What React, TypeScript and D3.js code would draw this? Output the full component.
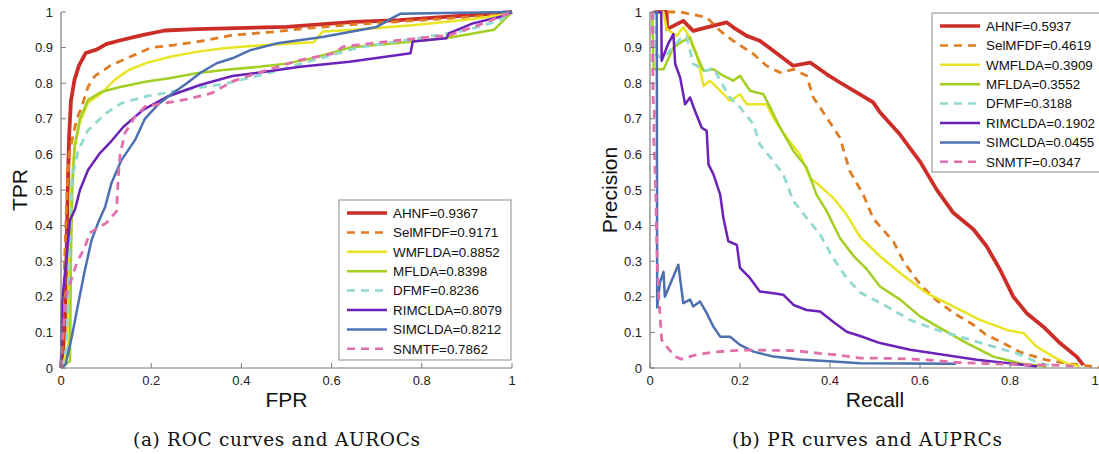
import React from 'react';
import * as d3 from 'd3';

type Pt = [number, number];

const methods = ['AHNF', 'SelMFDF', 'WMFLDA', 'MFLDA', 'DFMF', 'RIMCLDA', 'SIMCLDA', 'SNMTF'];
const aurocs = ['0.9367', '0.9171', '0.8852', '0.8398', '0.8236', '0.8079', '0.8212', '0.7862'];
const auprcs = ['0.5937', '0.4619', '0.3909', '0.3552', '0.3188', '0.1902', '0.0455', '0.0347'];
const xTicks = ['0', '0.2', '0.4', '0.6', '0.8', '1'];
const yTicks = ['0', '0.1', '0.2', '0.3', '0.4', '0.5', '0.6', '0.7', '0.8', '0.9', '1'];

// ROC curves: [FPR, TPR]
const rocAHNF: Pt[] = [[0, 0], [0.008, 0.1], [0.012, 0.3], [0.015, 0.5], [0.018, 0.65], [0.022, 0.75], [0.03, 0.81], [0.04, 0.85], [0.055, 0.885], [0.08, 0.895], [0.1, 0.91], [0.13, 0.92], [0.18, 0.935], [0.23, 0.948], [0.3, 0.952], [0.5, 0.958], [0.65, 0.972], [0.75, 0.977], [0.86, 0.987], [0.95, 0.995], [1, 1]];
const rocSelMFDF: Pt[] = [[0, 0], [0.005, 0.1], [0.008, 0.3], [0.012, 0.45], [0.018, 0.6], [0.028, 0.66], [0.035, 0.7], [0.045, 0.73], [0.06, 0.79], [0.075, 0.82], [0.11, 0.85], [0.155, 0.875], [0.2, 0.9], [0.25, 0.907], [0.32, 0.92], [0.38, 0.935], [0.47, 0.944], [0.55, 0.955], [0.65, 0.965], [0.75, 0.973], [0.86, 0.982], [0.95, 0.99], [1, 1]];
const rocWMFLDA: Pt[] = [[0, 0], [0.015, 0.05], [0.018, 0.3], [0.022, 0.5], [0.03, 0.62], [0.042, 0.69], [0.06, 0.745], [0.09, 0.772], [0.12, 0.81], [0.15, 0.837], [0.19, 0.857], [0.245, 0.875], [0.3, 0.888], [0.36, 0.898], [0.43, 0.905], [0.52, 0.912], [0.56, 0.915], [0.58, 0.945], [0.65, 0.95], [0.78, 0.963], [0.9, 0.978], [0.97, 0.99], [1, 1]];
const rocMFLDA: Pt[] = [[0, 0], [0.02, 0.02], [0.022, 0.3], [0.025, 0.5], [0.03, 0.62], [0.042, 0.7], [0.06, 0.753], [0.09, 0.776], [0.134, 0.79], [0.19, 0.805], [0.24, 0.814], [0.3, 0.828], [0.36, 0.837], [0.44, 0.846], [0.5, 0.855], [0.56, 0.871], [0.64, 0.9], [0.78, 0.917], [0.87, 0.93], [0.96, 0.95], [1, 1]];
const rocDFMF: Pt[] = [[0, 0], [0.012, 0.05], [0.018, 0.3], [0.024, 0.53], [0.038, 0.61], [0.06, 0.668], [0.1, 0.716], [0.134, 0.744], [0.186, 0.762], [0.245, 0.776], [0.32, 0.79], [0.36, 0.797], [0.46, 0.828], [0.56, 0.865], [0.66, 0.9], [0.79, 0.926], [0.9, 0.949], [0.97, 0.975], [1, 1]];
const rocRIMCLDA: Pt[] = [[0, 0], [0.002, 0.18], [0.013, 0.32], [0.02, 0.416], [0.031, 0.445], [0.042, 0.5], [0.06, 0.556], [0.086, 0.603], [0.11, 0.635], [0.138, 0.677], [0.182, 0.725], [0.235, 0.762], [0.308, 0.795], [0.38, 0.82], [0.48, 0.837], [0.53, 0.846], [0.64, 0.86], [0.775, 0.884], [0.78, 0.917], [0.855, 0.926], [0.86, 0.94], [0.913, 0.968], [0.97, 0.985], [1, 1]];
const rocSIMCLDA: Pt[] = [[0, 0], [0.01, 0.01], [0.024, 0.088], [0.038, 0.18], [0.053, 0.275], [0.068, 0.36], [0.082, 0.407], [0.098, 0.453], [0.112, 0.52], [0.134, 0.584], [0.164, 0.64], [0.186, 0.7], [0.215, 0.74], [0.24, 0.765], [0.279, 0.8], [0.31, 0.83], [0.345, 0.856], [0.38, 0.87], [0.42, 0.893], [0.48, 0.912], [0.58, 0.93], [0.7, 0.958], [0.733, 0.982], [0.752, 0.995], [0.85, 0.997], [1, 1]];
const rocSNMTF: Pt[] = [[0, 0], [0.001, 0.06], [0.013, 0.21], [0.035, 0.295], [0.053, 0.34], [0.064, 0.38], [0.1, 0.407], [0.123, 0.44], [0.127, 0.537], [0.131, 0.6], [0.142, 0.66], [0.164, 0.706], [0.186, 0.734], [0.23, 0.744], [0.28, 0.755], [0.334, 0.772], [0.38, 0.805], [0.456, 0.837], [0.53, 0.865], [0.604, 0.884], [0.626, 0.903], [0.752, 0.921], [0.862, 0.935], [0.936, 0.968], [0.98, 0.99], [1, 1]];

// PR curves: [Recall, Precision]
const prAHNF: Pt[] = [[0.01, 1], [0.037, 1], [0.038, 0.952], [0.074, 0.975], [0.096, 0.947], [0.126, 0.957], [0.17, 0.971], [0.185, 0.957], [0.215, 0.933], [0.244, 0.919], [0.274, 0.891], [0.318, 0.849], [0.356, 0.858], [0.393, 0.825], [0.422, 0.802], [0.459, 0.774], [0.496, 0.746], [0.51, 0.72], [0.556, 0.655], [0.6, 0.58], [0.637, 0.501], [0.674, 0.436], [0.719, 0.389], [0.748, 0.342], [0.778, 0.276], [0.807, 0.201], [0.837, 0.154], [0.874, 0.116], [0.911, 0.07], [0.948, 0.032], [0.963, 0.008]];
const prSelMFDF: Pt[] = [[0.007, 1], [0.067, 1], [0.126, 0.985], [0.156, 0.947], [0.185, 0.919], [0.23, 0.882], [0.259, 0.849], [0.289, 0.83], [0.319, 0.839], [0.348, 0.821], [0.363, 0.76], [0.393, 0.703], [0.422, 0.647], [0.444, 0.553], [0.474, 0.487], [0.496, 0.42], [0.541, 0.355], [0.563, 0.3], [0.6, 0.235], [0.637, 0.19], [0.674, 0.155], [0.72, 0.12], [0.745, 0.095], [0.785, 0.07], [0.822, 0.045], [0.88, 0.023], [0.926, 0.013], [0.985, 0.004], [1, 0.002]];
const prWMFLDA: Pt[] = [[0.011, 1], [0.03, 1], [0.037, 0.952], [0.059, 0.933], [0.074, 0.957], [0.089, 0.928], [0.104, 0.882], [0.119, 0.792], [0.133, 0.807], [0.156, 0.779], [0.178, 0.75], [0.2, 0.769], [0.215, 0.741], [0.259, 0.741], [0.274, 0.703], [0.304, 0.647], [0.333, 0.6], [0.356, 0.534], [0.378, 0.511], [0.407, 0.478], [0.437, 0.431], [0.467, 0.368], [0.511, 0.314], [0.556, 0.267], [0.615, 0.21], [0.674, 0.173], [0.733, 0.135], [0.793, 0.107], [0.83, 0.098], [0.859, 0.06], [0.896, 0.032], [0.926, 0.013], [0.955, 0.004]];
const prMFLDA: Pt[] = [[0.005, 1], [0.008, 0.84], [0.03, 0.839], [0.052, 0.9], [0.074, 0.919], [0.089, 0.928], [0.096, 0.9], [0.119, 0.835], [0.141, 0.839], [0.163, 0.821], [0.185, 0.807], [0.2, 0.821], [0.222, 0.779], [0.252, 0.769], [0.267, 0.732], [0.289, 0.675], [0.319, 0.609], [0.348, 0.563], [0.37, 0.487], [0.393, 0.44], [0.422, 0.365], [0.452, 0.315], [0.48, 0.28], [0.511, 0.229], [0.556, 0.192], [0.6, 0.145], [0.652, 0.107], [0.704, 0.07], [0.763, 0.032], [0.822, 0.013], [0.881, 0.004]];
const prDFMF: Pt[] = [[0.008, 1], [0.012, 0.88], [0.03, 0.87], [0.05, 0.9], [0.068, 0.925], [0.081, 0.933], [0.096, 0.854], [0.126, 0.835], [0.141, 0.844], [0.156, 0.807], [0.178, 0.76], [0.2, 0.732], [0.23, 0.685], [0.244, 0.628], [0.274, 0.581], [0.296, 0.544], [0.319, 0.468], [0.348, 0.422], [0.378, 0.375], [0.407, 0.309], [0.437, 0.253], [0.467, 0.212], [0.526, 0.173], [0.578, 0.135], [0.637, 0.107], [0.689, 0.088], [0.763, 0.06], [0.815, 0.041], [0.867, 0.013], [0.9, 0.004]];
const prRIMCLDA: Pt[] = [[0.015, 1], [0.025, 1], [0.026, 0.863], [0.04, 0.91], [0.052, 0.938], [0.056, 0.854], [0.067, 0.816], [0.078, 0.741], [0.089, 0.76], [0.1, 0.722], [0.115, 0.675], [0.126, 0.666], [0.13, 0.572], [0.141, 0.544], [0.156, 0.487], [0.163, 0.422], [0.174, 0.356], [0.193, 0.346], [0.2, 0.281], [0.222, 0.253], [0.244, 0.215], [0.274, 0.21], [0.296, 0.206], [0.319, 0.177], [0.348, 0.163], [0.378, 0.159], [0.407, 0.13], [0.437, 0.102], [0.467, 0.09], [0.511, 0.07], [0.578, 0.051], [0.652, 0.037], [0.726, 0.023], [0.8, 0.013], [0.86, 0.004]];
const prSIMCLDA: Pt[] = [[0.008, 1], [0.015, 1], [0.016, 0.17], [0.022, 0.24], [0.03, 0.27], [0.033, 0.2], [0.063, 0.29], [0.074, 0.182], [0.089, 0.192], [0.096, 0.173], [0.111, 0.187], [0.126, 0.154], [0.141, 0.116], [0.156, 0.088], [0.178, 0.088], [0.2, 0.065], [0.23, 0.046], [0.274, 0.032], [0.333, 0.024], [0.407, 0.018], [0.467, 0.013], [0.68, 0.012]];
const prSNMTF: Pt[] = [[0.005, 1], [0.007, 0.75], [0.01, 0.72], [0.008, 0.65], [0.01, 0.6], [0.013, 0.48], [0.016, 0.3], [0.02, 0.19], [0.026, 0.079], [0.037, 0.06], [0.056, 0.032], [0.07, 0.025], [0.096, 0.035], [0.141, 0.045], [0.2, 0.05], [0.244, 0.05], [0.319, 0.049], [0.378, 0.041], [0.415, 0.037], [0.467, 0.028], [0.54, 0.027], [0.615, 0.023], [0.689, 0.015], [0.8, 0.01], [0.9, 0.008], [0.95, 0.005]];

const rocCurves = [rocAHNF, rocSelMFDF, rocWMFLDA, rocMFLDA, rocDFMF, rocRIMCLDA, rocSIMCLDA, rocSNMTF];
const prCurves = [prAHNF, prSelMFDF, prWMFLDA, prMFLDA, prDFMF, prRIMCLDA, prSIMCLDA, prSNMTF];

// styling per method
const colors = ['#cc2e27', '#e07d22', '#e8e524', '#a2cf22', '#93d9d1', '#6b22b8', '#4d70b0', '#e06fab'];
const dashed = [false, true, false, false, true, false, false, true];
const widths = [3.8, 2.8, 2.5, 2.5, 2.8, 2.5, 2.5, 2.8];

const sans = 'Liberation Sans, Arial, Helvetica, sans-serif';
const serif = 'DejaVu Serif, Liberation Serif, serif';

type PanelProps = {
  x0: number; x1: number; y0: number; y1: number;
  curves: Pt[][];
  scores: string[];
  xLabel: string; yLabel: string; yLabelX: number;
  legend: { x: number; y: number; w: number; h: number };
  caption: string; captionX: number; captionW: number;
};

const Panel = (p: PanelProps) => {
  const x = d3.scaleLinear().domain([0, 1]).range([p.x0, p.x1]);
  const y = d3.scaleLinear().domain([0, 1]).range([p.y0, p.y1]);
  const line = d3.line<Pt>().x(d => x(d[0])).y(d => y(d[1]));
  const axisColor = '#7a7a7a';
  const tickColor = '#222';
  const rowH = 19.4;
  return (
    <g>
      {p.curves.map((c, i) => (
        <path key={methods[i]} d={line(c) || ''} fill="none" stroke={colors[i]}
          strokeWidth={widths[i]} strokeDasharray={dashed[i] ? '8,6' : undefined}
          strokeLinejoin="round" />
      ))}
      <line x1={p.x0} x2={p.x0} y1={p.y0} y2={p.y1} stroke={axisColor} strokeWidth={1.2} />
      <line x1={p.x0} x2={p.x1} y1={p.y0} y2={p.y0} stroke={axisColor} strokeWidth={1.2} />
      {yTicks.map(t => (
        <g key={'y' + t}>
          <line x1={p.x0} x2={p.x0 + 5} y1={y(+t)} y2={y(+t)} stroke={axisColor} />
          <text x={p.x0 - 8} y={y(+t)} dy="0.36em" textAnchor="end" fontSize={13} fill={tickColor} fontFamily={sans}>{t}</text>
        </g>
      ))}
      {xTicks.map(t => {
        // keep the last label inside the page edge
        const px = Math.min(x(+t), 1095);
        return (
          <g key={'x' + t}>
            <line x1={x(+t)} x2={x(+t)} y1={p.y0} y2={p.y0 - 5} stroke={axisColor} />
            <text x={px} y={p.y0 + 17} textAnchor="middle" fontSize={13} fill={tickColor} fontFamily={sans}>{t}</text>
          </g>
        );
      })}
      <text x={(p.x0 + p.x1) / 2} y={407} textAnchor="middle" fontSize={21} fill="#111" fontFamily={sans}>{p.xLabel}</text>
      <text transform={`translate(${p.yLabelX},${(p.y0 + p.y1) / 2}) rotate(-90)`} textAnchor="middle" fontSize={21} fill="#111" fontFamily={sans}>{p.yLabel}</text>
      <rect x={p.legend.x} y={p.legend.y} width={p.legend.w} height={p.legend.h} fill="#fff" stroke="#8a8a8a" strokeWidth={1} />
      {methods.map((m, i) => {
        const ly = p.legend.y + 13 + i * rowH;
        return (
          <g key={'l' + m}>
            <line x1={p.legend.x + 8} x2={p.legend.x + 48} y1={ly} y2={ly} stroke={colors[i]}
              strokeWidth={i === 0 ? 3.5 : 2.5} strokeDasharray={dashed[i] ? '8,6' : undefined} />
            <text x={p.legend.x + 54} y={ly} dy="0.36em" fontSize={13.4} fill="#111" fontFamily={sans}>{`${m}=${p.scores[i]}`}</text>
          </g>
        );
      })}
      <text x={p.captionX} y={446} fontSize={18.5} fill="#111" fontFamily={serif}
        textLength={p.captionW} lengthAdjust="spacing">{p.caption}</text>
    </g>
  );
};

const App = () => (
  <svg width={1099} height={454} style={{ position: 'absolute', left: 0, top: 0, background: '#fff' }}>
    <Panel x0={61} x1={512} y0={368} y1={12} curves={rocCurves} scores={aurocs}
      xLabel="FPR" yLabel="TPR" yLabelX={27}
      legend={{ x: 339, y: 200, w: 172, h: 160 }}
      caption="(a)  ROC curves and AUROCs" captionX={133} captionW={287} />
    <Panel x0={650} x1={1100} y0={368} y1={12} curves={prCurves} scores={auprcs}
      xLabel="Recall" yLabel="Precision" yLabelX={617}
      legend={{ x: 932, y: 13, w: 175, h: 159 }}
      caption="(b)  PR curves and AUPRCs" captionX={732} captionW={270} />
  </svg>
);

export default App;
